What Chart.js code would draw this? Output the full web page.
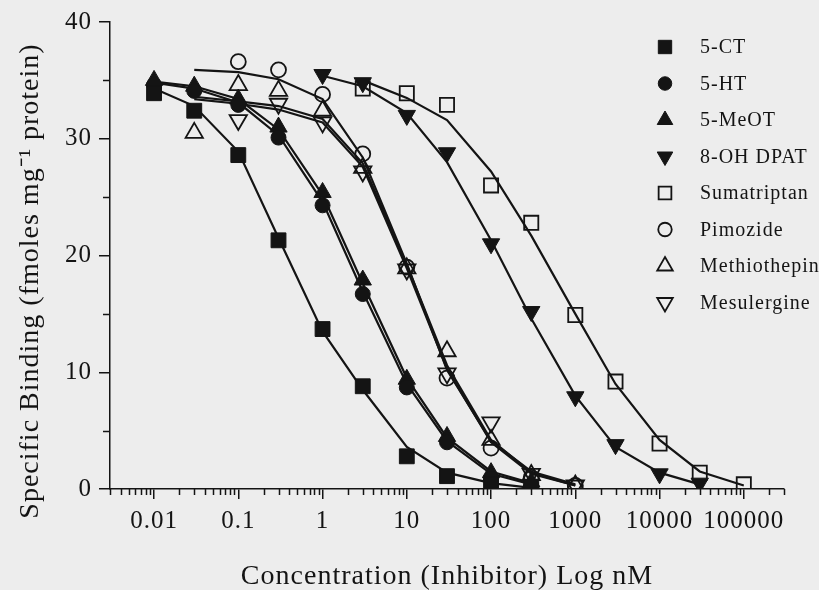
<!DOCTYPE html>
<html>
<head>
<meta charset="utf-8">
<script src="https://cdn.jsdelivr.net/npm/chart.js@4/dist/chart.umd.min.js"></script>
<style>
  html, body { margin: 0; padding: 0; background: #ededed; }
  #wrap { width: 819px; height: 590px; }
</style>
</head>
<body>
<div id="wrap"><canvas id="chart" width="819" height="590"></canvas></div>
<script>
// axis ticks
const xMajor = [0.01, 0.1, 1, 10, 100, 1000, 10000, 100000];
const xTickLabels = ['0.01', '0.1', '1', '10', '100', '1000', '10000', '100000'];
const xMinorSteps = [2, 3, 4, 5, 6, 7, 8, 9];
const yTicks = [0, 5, 10, 15, 20, 25, 30, 35, 40];
const yTickLabels = ['0', '', '10', '', '20', '', '30', '', '40'];
const yTitle = 'Specific Binding (fmoles mg\u207B\u00B9 protein)';

// concentrations (nM)
const agonistConc = [0.01, 0.03, 0.1, 0.3, 1, 3, 10, 30, 100, 300];
const dpatConc = [1, 3, 10, 30, 100, 300, 1000, 3000, 10000, 30000];
const sumaConc = [3, 10, 30, 100, 300, 1000, 3000, 10000, 30000, 100000];
const pimoConc = [0.1, 0.3, 1, 3, 10, 30, 100, 300, 1000];
const methConc = [0.03, 0.1, 0.3, 1, 3, 10, 30, 100, 300, 1000];
const mesuConc = [0.1, 0.3, 1, 3, 10, 30, 100, 300, 1000];
const antagFitConc = [0.03, 0.1, 0.3, 1, 3, 10, 30, 100, 300, 1000];

// measured binding (fmoles/mg protein)
const ctPoints = [33.9, 32.4, 28.6, 21.3, 13.7, 8.8, 2.8, 1.1, 0.4, 0.2];
const htPoints = [34.6, 34.1, 32.9, 30.1, 24.3, 16.7, 8.7, 4.0, 0.9, 0.3];
const meotPoints = [35.0, 34.5, 33.4, 31.0, 25.4, 17.9, 9.4, 4.5, 1.4, 0.6];
const dpatPoints = [35.5, 34.8, 32.0, 28.8, 21.0, 15.2, 7.9, 3.8, 1.3, 0.5];
const sumaPoints = [34.3, 33.9, 32.9, 26.0, 22.8, 14.9, 9.2, 3.9, 1.4, 0.4];
const pimoPoints = [36.6, 35.9, 33.8, 28.7, 19.0, 9.5, 3.5, 1.0, 0.3];
const methPoints = [30.5, 34.6, 34.1, 32.4, 27.5, 18.9, 11.8, 4.2, 1.2, 0.3];
const mesuPoints = [31.6, 33.0, 31.4, 27.2, 18.8, 9.9, 5.7, 1.3, 0.3];

// fitted curves
const ctFit = [34.3, 32.8, 28.9, 21.5, 13.5, 8.5, 3.6, 1.4, 0.5, 0.1];
const htFit = [34.8, 34.3, 33.1, 30.3, 24.6, 16.9, 9.0, 4.1, 1.3, 0.4];
const meotFit = [34.9, 34.5, 33.4, 30.8, 25.2, 17.6, 9.5, 4.4, 1.5, 0.5];
const dpatFit = [35.4, 34.5, 32.2, 28.0, 21.3, 14.6, 8.0, 3.6, 1.4, 0.4];
const sumaFit = [35.0, 33.5, 31.6, 27.2, 21.7, 15.0, 9.0, 4.2, 1.5, 0.3];
const pimoFit = [35.9, 35.7, 35.1, 33.4, 28.4, 19.3, 10.2, 4.1, 1.5, 0.4];
const methFit = [33.6, 33.2, 32.8, 31.7, 27.9, 19.2, 10.6, 4.2, 1.4, 0.3];
const mesuFit = [33.4, 33.0, 32.5, 31.4, 27.6, 18.9, 10.3, 4.0, 1.3, 0.3];

const ink = '#141414';
const serif = '"Liberation Serif", "Times New Roman", serif';
const xMin = 0.003, xMax = 300000;

const series = [
  { label: '5-CT', conc: agonistConc, pts: ctPoints, fitConc: agonistConc, fit: ctFit, shape: 'rect', filled: true, r: 10.5, rot: 0 },
  { label: '5-HT', conc: agonistConc, pts: htPoints, fitConc: agonistConc, fit: htFit, shape: 'circle', filled: true, r: 7.5, rot: 0 },
  { label: '5-MeOT', conc: agonistConc, pts: meotPoints, fitConc: agonistConc, fit: meotFit, shape: 'triangle', filled: true, r: 10, rot: 0 },
  { label: '8-OH DPAT', conc: dpatConc, pts: dpatPoints, fitConc: dpatConc, fit: dpatFit, shape: 'triangle', filled: true, r: 10, rot: 180 },
  { label: 'Sumatriptan', conc: sumaConc, pts: sumaPoints, fitConc: sumaConc, fit: sumaFit, shape: 'rect', filled: false, r: 10, rot: 0 },
  { label: 'Pimozide', conc: pimoConc, pts: pimoPoints, fitConc: antagFitConc, fit: pimoFit, shape: 'circle', filled: false, r: 7.5, rot: 0 },
  { label: 'Methiothepin', conc: methConc, pts: methPoints, fitConc: antagFitConc, fit: methFit, shape: 'triangle', filled: false, r: 10, rot: 0 },
  { label: 'Mesulergine', conc: mesuConc, pts: mesuPoints, fitConc: antagFitConc, fit: mesuFit, shape: 'triangle', filled: false, r: 10, rot: 180 }
];

const pairs = (xs, ys) => xs.map((x, i) => ({ x: x, y: ys[i] }));

const markerSets = series.map(s => ({
  label: s.label,
  data: pairs(s.conc, s.pts),
  showLine: false,
  pointStyle: s.shape,
  pointRadius: s.r,
  pointRotation: s.rot,
  backgroundColor: s.filled ? ink : 'rgba(0,0,0,0)',
  borderColor: ink,
  borderWidth: s.filled ? 1 : 1.8,
  order: 0
}));

const fitSets = series.map(s => ({
  label: s.label + ' fit',
  data: pairs(s.fitConc, s.fit),
  showLine: true,
  pointRadius: 0,
  borderColor: ink,
  borderWidth: 2.2,
  tension: 0,
  order: 1
}));

// x tick positions: every 1..9 x 10^n inside the axis range
const xTickValues = [];
[0.001].concat(xMajor).forEach(d => {
  [1].concat(xMinorSteps).forEach(m => {
    const v = +(d * m).toPrecision(6);
    if (v >= xMin * 0.999 && v <= xMax * 1.001) xTickValues.push(v);
  });
});

function xLabel(v) {
  const i = xMajor.findIndex(m => Math.abs(m - v) / m < 1e-6);
  return i >= 0 ? xTickLabels[i] : '';
}

const spacing = {
  id: 'spacing',
  beforeDraw(chart) { chart.ctx.letterSpacing = '1px'; }
};

// short minor tick marks + y title (sits a little below centre in the original)
const axisExtras = {
  id: 'axisExtras',
  afterDraw(chart) {
    const ctx = chart.ctx;
    const x = chart.scales.x, y = chart.scales.y;
    ctx.save();
    ctx.strokeStyle = ink;
    ctx.lineWidth = 1.5;
    ctx.beginPath();
    x.ticks.forEach(t => {
      if (t.label !== '') return;
      const px = Math.round(x.getPixelForValue(t.value)) + 0.5;
      ctx.moveTo(px, x.top);
      ctx.lineTo(px, x.top + 6);
    });
    y.ticks.forEach(t => {
      if (t.label !== '') return;
      const py = Math.round(y.getPixelForValue(t.value)) + 0.5;
      ctx.moveTo(y.right, py);
      ctx.lineTo(y.right - 7, py);
    });
    ctx.stroke();

    ctx.letterSpacing = '1px';
    ctx.font = '28px ' + serif;
    ctx.fillStyle = ink;
    ctx.textAlign = 'center';
    ctx.textBaseline = 'middle';
    ctx.translate(31, 281);
    ctx.rotate(-Math.PI / 2);
    ctx.fillText(yTitle, 0, 0);
    ctx.restore();
  }
};

// legend inside the plot, top right
const sideLegend = {
  id: 'sideLegend',
  afterDraw(chart) {
    const ctx = chart.ctx;
    ctx.save();
    ctx.letterSpacing = '1px';
    ctx.font = '20px ' + serif;
    ctx.textBaseline = 'middle';
    ctx.textAlign = 'left';
    series.forEach((s, i) => {
      const ds = markerSets[i];
      const y = 47 + i * 36.5;
      ctx.fillStyle = ds.backgroundColor;
      ctx.strokeStyle = ds.borderColor;
      ctx.lineWidth = ds.borderWidth;
      Chart.helpers.drawPoint(ctx, {
        pointStyle: ds.pointStyle,
        radius: ds.pointRadius * 0.9,
        rotation: s.rot,
        borderWidth: ds.borderWidth
      }, 665, y);
      ctx.fillStyle = ink;
      ctx.fillText(s.label, 700, y + 1);
    });
    ctx.restore();
  }
};

Chart.defaults.font.family = serif;
Chart.defaults.color = ink;

new Chart(document.getElementById('chart'), {
  type: 'scatter',
  data: { datasets: markerSets.concat(fitSets) },
  options: {
    responsive: false,
    animation: false,
    layout: { padding: { left: 0, right: 35, top: 20, bottom: 0 } },
    plugins: { legend: { display: false }, tooltip: { enabled: false } },
    scales: {
      x: {
        type: 'logarithmic',
        min: xMin,
        max: xMax,
        afterBuildTicks: s => { s.ticks = xTickValues.map(v => ({ value: v })); },
        afterFit: s => { s.height = 101; },
        border: { color: ink, width: 1.5 },
        grid: {
          drawOnChartArea: false,
          tickLength: 10,
          lineWidth: 1.5,
          tickColor: c => (c.tick && c.tick.label === '') ? 'rgba(0,0,0,0)' : ink
        },
        ticks: {
          autoSkip: false,
          maxRotation: 0,
          padding: 7,
          font: { size: 25 },
          callback: v => xLabel(v)
        },
        title: {
          display: true,
          text: 'Concentration (Inhibitor) Log nM',
          font: { size: 28, lineHeight: 1 },
          padding: { top: 0, bottom: -1 }
        }
      },
      y: {
        min: 0,
        max: 40,
        afterBuildTicks: s => { s.ticks = yTicks.map(v => ({ value: v })); },
        afterFit: s => { s.width = 110; },
        border: { color: ink, width: 1.5 },
        grid: {
          drawOnChartArea: false,
          tickLength: 11,
          lineWidth: 1.5,
          tickColor: c => (c.tick && c.tick.label === '') ? 'rgba(0,0,0,0)' : ink
        },
        ticks: {
          padding: 7,
          font: { size: 25 },
          callback: v => yTickLabels[yTicks.indexOf(v)] || ''
        },
        title: { display: false }
      }
    }
  },
  plugins: [spacing, axisExtras, sideLegend]
});
</script>
</body>
</html>
